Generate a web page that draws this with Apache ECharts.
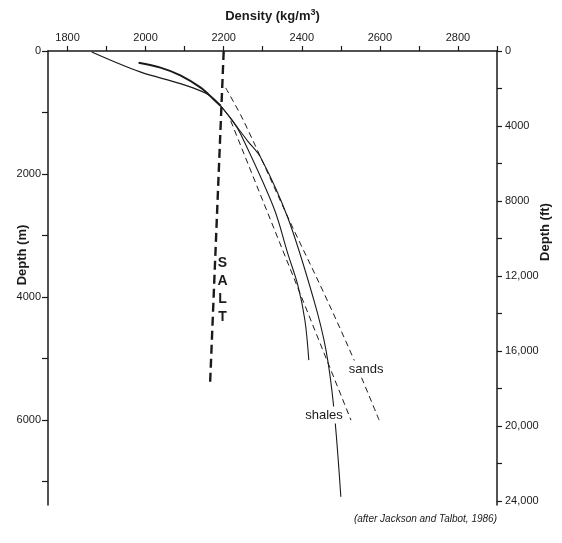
<!DOCTYPE html>
<html>
<head>
<meta charset="utf-8">
<script src="https://cdn.jsdelivr.net/npm/echarts@6/dist/echarts.min.js"></script>
<style>
html,body{margin:0;padding:0;background:#fff;}
#chart{width:562px;height:543px;}
</style>
</head>
<body>
<div id="chart"></div>
<script>
// ---- axis ticks / labels ----
const densityTicks = [1800,1900,2000,2100,2200,2300,2400,2500,2600,2700,2800,2900];
const densityLabels = [1800,2000,2200,2400,2600,2800];
const depthMTicks = [0,1000,2000,3000,4000,5000,6000,7000];
const depthMLabels = [0,2000,4000,6000];
const depthFtTicks = [0,2000,4000,6000,8000,10000,12000,14000,16000,18000,20000,22000,24000];
const depthFtLabels = [0,4000,8000,12000,16000,20000,24000];

// ---- curves (density kg/m3, depth m) ----
const saltDensity = [2200, 2165];
const saltDepth = [0, 5430];

const shallow1Density = [1862, 1986, 2089, 2158, 2192];
const shallow1Depth = [16, 340, 530, 700, 890];

const shallow2Density = [1982, 2038, 2089, 2141, 2174, 2192];
const shallow2Depth = [190, 270, 395, 595, 783, 890];

const solidADensity = [2192, 2223, 2243, 2328, 2364, 2390, 2408, 2418];
const solidADepth = [890, 1135, 1345, 2545, 3290, 3810, 4377, 5025];

const solidBDensity = [2192, 2218, 2261, 2295, 2364, 2431, 2462, 2482, 2500];
const solidBDepth = [890, 1100, 1460, 1735, 2707, 4050, 4863, 5800, 7245];

const dashCDensity = [2218, 2526];
const dashCDepth = [1135, 6000];

const dashDDensity = [2205, 2251, 2372, 2457, 2534, 2598];
const dashDDepth = [600, 1135, 2805, 3940, 5025, 6000];

// ---- annotations ----
const noteText = ['S\nA\nL\nT', 'sands', 'shales'];
const noteDensity = [2197, 2565, 2457];
const noteDepth = [3884, 5170, 5919];

const xMin = 1750, xMax = 2900, yMaxM = 7380;
const M_TO_FT = 3.28084;

function pairs(xs, ys){ return xs.map((x,i)=>[x, ys[i]]); }

const FONT = '"Liberation Sans", Arial, Helvetica, sans-serif';
const INK = '#1a1a1a';

function lineSeries(name, xs, ys, opts){
  return Object.assign({
    name: name, type: 'line', xAxisIndex: 0, yAxisIndex: 0,
    data: pairs(xs, ys), symbol: 'none', smooth: 0.35,
    lineStyle: {color: INK, width: 1.1, type: 'solid'},
    silent: true, animation: false
  }, opts || {});
}

const chart = echarts.init(document.getElementById('chart'), null, {renderer: 'canvas'});

const option = {
  backgroundColor: '#fff',
  animation: false,
  grid: {left: 48, right: 65, top: 51, bottom: 38, outerBoundsMode: 'none', containLabel: false},
  xAxis: [{
    type: 'value', position: 'top', min: xMin, max: xMax,
    splitLine: {show: false},
    axisLine: {show: true, lineStyle: {color: INK, width: 1.5}},
    axisTick: {show: true, inside: false, length: 5, lineStyle: {color: INK, width: 1.2}, customValues: densityTicks},
    axisLabel: {show: true, customValues: densityLabels, color: INK, fontSize: 11, fontFamily: FONT, margin: 8,
      formatter: function(v){ return String(v); }},
    name: 'Density (kg/m{sup|3})', nameLocation: 'middle', nameGap: 27,
    nameTextStyle: {color: INK, fontSize: 13, fontWeight: 'bold', fontFamily: FONT,
      rich: {sup: {fontSize: 9, fontWeight: 'bold', fontFamily: FONT, color: INK, verticalAlign: 'top', padding: [0,0,7,0]}}}
  }],
  yAxis: [{
    type: 'value', position: 'left', inverse: true, min: 0, max: yMaxM,
    splitLine: {show: false},
    axisLine: {show: true, lineStyle: {color: INK, width: 1.5}},
    axisTick: {show: true, length: 6, lineStyle: {color: INK, width: 1.2}, customValues: depthMTicks},
    axisLabel: {show: true, customValues: depthMLabels, color: INK, fontSize: 11, fontFamily: FONT, margin: 7,
      formatter: function(v){ return String(v); }}
  }, {
    type: 'value', position: 'right', inverse: true, min: 0, max: yMaxM * M_TO_FT,
    splitLine: {show: false},
    axisLine: {show: true, lineStyle: {color: INK, width: 1.5}},
    axisTick: {show: true, length: 5, lineStyle: {color: INK, width: 1.2}, customValues: depthFtTicks},
    axisLabel: {show: true, customValues: depthFtLabels, color: INK, fontSize: 11, fontFamily: FONT, margin: 8,
      formatter: function(v){ return v >= 10000 ? String(v).replace(/(\d)(\d{3})$/, '$1,$2') : String(v); }}
  }],
  series: [
    lineSeries('salt', saltDensity, saltDepth, {smooth: false, lineStyle: {color: INK, width: 2.4, type: [9, 5]}}),
    lineSeries('shallow1', shallow1Density, shallow1Depth, {lineStyle: {color: INK, width: 1.2}}),
    lineSeries('shallow2', shallow2Density, shallow2Depth, {lineStyle: {color: INK, width: 2}}),
    lineSeries('solidA', solidADensity, solidADepth),
    lineSeries('solidB', solidBDensity, solidBDepth),
    lineSeries('dashC', dashCDensity, dashCDepth, {smooth: false, lineStyle: {color: INK, width: 1, type: [6, 4]}}),
    lineSeries('dashD', dashDDensity, dashDDepth, {lineStyle: {color: INK, width: 1, type: [6, 4]}})
  ]
};
chart.setOption(option);

// annotations positioned through the chart's own scales
const notePx = noteText.map((t,i)=>chart.convertToPixel({xAxisIndex: 0, yAxisIndex: 0}, [noteDensity[i], noteDepth[i]]));
const graphics = [
  {type: 'text', rotation: Math.PI/2, x: 22, y: 255, z: 20,
    style: {text: 'Depth (m)', fill: INK, font: 'bold 13px ' + FONT, align: 'center', verticalAlign: 'middle'}},
  {type: 'text', rotation: Math.PI/2, x: 545, y: 232, z: 20,
    style: {text: 'Depth (ft)', fill: INK, font: 'bold 13px ' + FONT, align: 'center', verticalAlign: 'middle'}},
  {type: 'text', x: 497, y: 519, z: 20,
    style: {text: '(after Jackson and Talbot, 1986)', fill: INK, font: 'italic 10px ' + FONT, align: 'right', verticalAlign: 'middle'}},
  {type: 'text', x: notePx[0][0], y: notePx[0][1], z: 20,
    style: {text: noteText[0], fill: INK, font: 'bold 14px ' + FONT, lineHeight: 18, align: 'center', verticalAlign: 'middle'}},
  {type: 'text', x: notePx[1][0], y: notePx[1][1], z: 20,
    style: {text: noteText[1], fill: INK, font: '13px ' + FONT, align: 'center', verticalAlign: 'middle',
      backgroundColor: '#fff', padding: [2, 2]}},
  {type: 'text', x: notePx[2][0], y: notePx[2][1], z: 20,
    style: {text: noteText[2], fill: INK, font: '13px ' + FONT, align: 'center', verticalAlign: 'middle',
      backgroundColor: '#fff', padding: [2, 2]}}
];
chart.setOption({graphic: graphics});
</script>
</body>
</html>
